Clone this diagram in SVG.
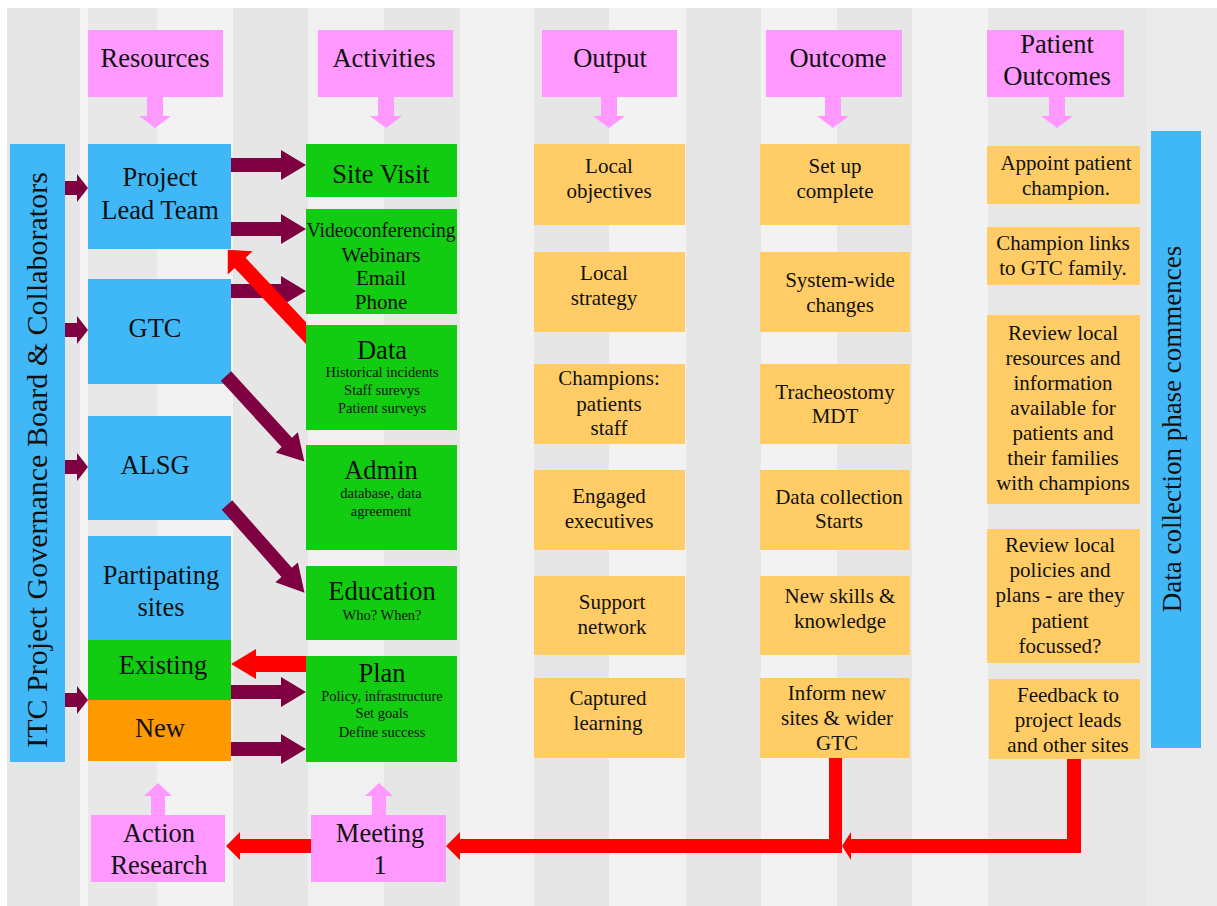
<svg xmlns="http://www.w3.org/2000/svg" width="1217" height="906" viewBox="0 0 1217 906">
  <style>
    text { font-family: "Liberation Serif", "Times New Roman", serif; fill: #111; text-anchor: middle; }
    .hdr { fill: #ff99ff; }
    .blue { fill: #40b8f8; }
    .green { fill: #11cc11; }
    .orange { fill: #ff9900; }
    .yellow { fill: #ffcc66; }
    .maroon { fill: #7f0040; }
    .red { fill: #ff0000; }
    .pink { fill: #ff99ff; }
    .big { font-size: 26.5px; }
    .mid { font-size: 21px; }
    .small { font-size: 14.5px; }
  </style>
  <defs>
    <!-- keeps the red feedback arrow from running over the Data box -->
    <clipPath id="left-of-activities"><rect x="0" y="0" width="306" height="906"/></clipPath>
  </defs>

  <!-- background: white frame with light grey vertical bands -->
  <g id="background">
    <rect x="0" y="0" width="1217" height="906" fill="#ffffff"/>
    <rect x="7" y="8" width="73" height="898" fill="#e6e6e6"/>
    <rect x="80" y="8" width="8" height="898" fill="#f4f4f4"/>
    <rect x="88" y="8" width="69" height="898" fill="#e8e8e8"/>
    <rect x="157" y="8" width="76" height="898" fill="#f2f2f2"/>
    <rect x="233" y="8" width="75" height="898" fill="#e6e6e6"/>
    <rect x="308" y="8" width="76" height="898" fill="#f0f0f0"/>
    <rect x="384" y="8" width="76" height="898" fill="#e6e6e6"/>
    <rect x="460" y="8" width="74" height="898" fill="#f2f2f2"/>
    <rect x="534" y="8" width="75" height="898" fill="#e6e6e6"/>
    <rect x="609" y="8" width="77" height="898" fill="#f2f2f2"/>
    <rect x="686" y="8" width="75" height="898" fill="#e6e6e6"/>
    <rect x="761" y="8" width="76" height="898" fill="#f2f2f2"/>
    <rect x="837" y="8" width="75" height="898" fill="#e6e6e6"/>
    <rect x="912" y="8" width="76" height="898" fill="#f2f2f2"/>
    <rect x="988" y="8" width="159" height="898" fill="#e7e7e7"/>
    <rect x="1147" y="8" width="70" height="898" fill="#ebebeb"/>
  </g>

  <!-- column headers -->
  <g id="hdr-resources"><rect class="hdr" x="88" y="30" width="135" height="67"/><text class="big" x="155" y="67">Resources</text></g>
  <g id="hdr-activities"><rect class="hdr" x="318" y="30" width="135" height="67"/><text class="big" x="384" y="67">Activities</text></g>
  <g id="hdr-output"><rect class="hdr" x="542" y="30" width="135" height="67"/><text class="big" x="610" y="67">Output</text></g>
  <g id="hdr-outcome"><rect class="hdr" x="766" y="30" width="136" height="67"/><text class="big" x="838" y="67">Outcome</text></g>
  <g id="hdr-patient"><rect class="hdr" x="987" y="30" width="137" height="67"/><text class="big" x="1057" y="53">Patient</text><text class="big" x="1057" y="85">Outcomes</text></g>

  <!-- side bars -->
  <g id="governance">
    <rect class="blue" x="10" y="144" width="55" height="618"/>
    <text transform="translate(47,460) rotate(-90)" font-size="30">ITC Project Governance Board &amp; Collaborators</text>
  </g>
  <g id="data-phase">
    <rect class="blue" x="1151" y="131" width="50" height="617"/>
    <text transform="translate(1181,429) rotate(-90)" font-size="27">Data collection phase commences</text>
  </g>

  <!-- resources -->
  <g id="project-lead"><rect class="blue" x="88" y="144" width="143" height="105"/><text class="big" x="160" y="186">Project</text><text class="big" x="160" y="219">Lead Team</text></g>
  <g id="gtc"><rect class="blue" x="88" y="279" width="143" height="105"/><text class="big" x="155" y="337">GTC</text></g>
  <g id="alsg"><rect class="blue" x="88" y="416" width="143" height="104"/><text class="big" x="155" y="474">ALSG</text></g>
  <g id="sites"><rect class="blue" x="88" y="536" width="143" height="104"/><text class="big" x="161" y="584">Partipating</text><text class="big" x="161" y="616">sites</text></g>
  <g id="existing"><rect class="green" x="88" y="640" width="143" height="60"/><text class="big" x="163" y="674">Existing</text></g>
  <g id="new"><rect class="orange" x="88" y="700" width="143" height="61"/><text class="big" x="160" y="737">New</text></g>

  <!-- activities -->
  <g id="site-visit"><rect class="green" x="306" y="144" width="151" height="53"/><text class="big" x="381" y="183">Site Visit</text></g>
  <g id="remote"><rect class="green" x="306" y="209" width="151" height="105"/>
    <text class="mid" x="381" y="237" textLength="149" lengthAdjust="spacingAndGlyphs">Videoconferencing</text><text class="mid" x="381" y="262">Webinars</text><text class="mid" x="381" y="285">Email</text><text class="mid" x="381" y="309">Phone</text></g>
  <g id="data"><rect class="green" x="306" y="325" width="151" height="105"/>
    <text class="big" x="382" y="359">Data</text><text class="small" x="382" y="377">Historical incidents</text><text class="small" x="382" y="395">Staff surevys</text><text class="small" x="382" y="413">Patient surveys</text></g>
  <g id="admin"><rect class="green" x="306" y="445" width="151" height="105"/>
    <text class="big" x="381" y="479">Admin</text><text class="small" x="381" y="498">database, data</text><text class="small" x="381" y="516">agreement</text></g>
  <g id="education"><rect class="green" x="306" y="566" width="151" height="74"/>
    <text class="big" x="382" y="600">Education</text><text class="small" x="382" y="620">Who? When?</text></g>
  <g id="plan"><rect class="green" x="306" y="656" width="151" height="106"/>
    <text class="big" x="382" y="682">Plan</text><text class="small" x="382" y="701">Policy, infrastructure</text><text class="small" x="382" y="718">Set goals</text><text class="small" x="382" y="737">Define success</text></g>

  <!-- outputs -->
  <g id="local-objectives"><rect class="yellow" x="534" y="144" width="151" height="81"/><text class="mid" x="609" y="173">Local</text><text class="mid" x="609" y="198">objectives</text></g>
  <g id="local-strategy"><rect class="yellow" x="534" y="252" width="151" height="80"/><text class="mid" x="604" y="280">Local</text><text class="mid" x="604" y="305">strategy</text></g>
  <g id="champions"><rect class="yellow" x="534" y="364" width="151" height="80"/><text class="mid" x="609" y="385">Champions:</text><text class="mid" x="609" y="411">patients</text><text class="mid" x="609" y="435">staff</text></g>
  <g id="engaged"><rect class="yellow" x="534" y="470" width="151" height="80"/><text class="mid" x="609" y="503">Engaged</text><text class="mid" x="609" y="528">executives</text></g>
  <g id="support"><rect class="yellow" x="534" y="576" width="151" height="79"/><text class="mid" x="612" y="609">Support</text><text class="mid" x="612" y="634">network</text></g>
  <g id="captured"><rect class="yellow" x="534" y="678" width="151" height="80"/><text class="mid" x="608" y="705">Captured</text><text class="mid" x="608" y="730">learning</text></g>

  <!-- outcomes -->
  <g id="setup"><rect class="yellow" x="760" y="144" width="150" height="81"/><text class="mid" x="835" y="173">Set up</text><text class="mid" x="835" y="198">complete</text></g>
  <g id="system-wide"><rect class="yellow" x="760" y="252" width="150" height="80"/><text class="mid" x="840" y="287">System-wide</text><text class="mid" x="840" y="312">changes</text></g>
  <g id="mdt"><rect class="yellow" x="760" y="364" width="150" height="80"/><text class="mid" x="835" y="399">Tracheostomy</text><text class="mid" x="835" y="423">MDT</text></g>
  <g id="collection-starts"><rect class="yellow" x="760" y="470" width="150" height="80"/><text class="mid" x="839" y="504">Data collection</text><text class="mid" x="839" y="528">Starts</text></g>
  <g id="skills"><rect class="yellow" x="760" y="576" width="150" height="79"/><text class="mid" x="840" y="603">New skills &amp;</text><text class="mid" x="840" y="628">knowledge</text></g>
  <g id="inform"><rect class="yellow" x="760" y="678" width="150" height="80"/><text class="mid" x="837" y="700">Inform new</text><text class="mid" x="837" y="725">sites &amp; wider</text><text class="mid" x="837" y="750">GTC</text></g>

  <!-- patient outcomes -->
  <g id="appoint"><rect class="yellow" x="987" y="146" width="153" height="58"/><text class="mid" x="1066" y="170">Appoint patient</text><text class="mid" x="1066" y="195">champion.</text></g>
  <g id="links"><rect class="yellow" x="987" y="227" width="153" height="58"/><text class="mid" x="1063" y="250">Champion links</text><text class="mid" x="1063" y="275">to GTC family.</text></g>
  <g id="review-resources"><rect class="yellow" x="987" y="315" width="153" height="189"/>
    <text class="mid" x="1063" y="340">Review local</text><text class="mid" x="1063" y="365">resources and</text><text class="mid" x="1063" y="390">information</text><text class="mid" x="1063" y="415">available for</text><text class="mid" x="1063" y="440">patients and</text><text class="mid" x="1063" y="465">their families</text><text class="mid" x="1063" y="490">with champions</text></g>
  <g id="review-policies"><rect class="yellow" x="987" y="529" width="153" height="134"/>
    <text class="mid" x="1060" y="552">Review local</text><text class="mid" x="1060" y="577">policies and</text><text class="mid" x="1060" y="602">plans - are they</text><text class="mid" x="1060" y="628">patient</text><text class="mid" x="1060" y="653">focussed?</text></g>
  <g id="feedback"><rect class="yellow" x="989" y="679" width="151" height="80"/>
    <text class="mid" x="1068" y="702">Feedback to</text><text class="mid" x="1068" y="727">project leads</text><text class="mid" x="1068" y="752">and other sites</text></g>

  <!-- bottom row -->
  <g id="action-research"><rect class="pink" x="91" y="815" width="134" height="67"/><text class="big" x="159" y="842">Action</text><text class="big" x="159" y="874">Research</text></g>
  <g id="meeting"><rect class="pink" x="311" y="815" width="135" height="67"/><text class="big" x="380" y="842">Meeting</text><text class="big" x="380" y="874">1</text></g>

  <!-- connectors -->
  <g id="connectors">
    <!-- header arrows pointing down into each column -->
    <polygon class="pink" points="147,96 163,96 163,116 171,116 155,128 139,116 147,116"/>
    <polygon class="pink" points="378,96 394,96 394,116 402,116 386,128 370,116 378,116"/>
    <polygon class="pink" points="601,96 617,96 617,116 625,116 609,128 593,116 601,116"/>
    <polygon class="pink" points="825,96 841,96 841,116 849,116 833,128 817,116 825,116"/>
    <polygon class="pink" points="1049,96 1065,96 1065,116 1073,116 1057,128 1041,116 1049,116"/>
    <!-- upward arrows from the bottom boxes -->
    <polygon class="pink" points="151,816 165,816 165,796 172,796 158,783 144,796 151,796"/>
    <polygon class="pink" points="372,816 386,816 386,796 393,796 379,783 365,796 372,796"/>

    <!-- governance board into resources -->
    <polygon class="maroon" points="65,181 77,181 77,174 88,188 77,202 77,195 65,195"/>
    <polygon class="maroon" points="65,323 77,323 77,316 88,330 77,344 77,337 65,337"/>
    <polygon class="maroon" points="65,460 77,460 77,453 88,467 77,481 77,474 65,474"/>
    <polygon class="maroon" points="65,693 77,693 77,686 88,700 77,714 77,707 65,707"/>

    <!-- resources into activities -->
    <polygon class="maroon" points="231,158 281,158 281,150 306,165 281,180 281,172 231,172"/>
    <polygon class="maroon" points="231,222 281,222 281,214 306,229 281,244 281,236 231,236"/>
    <polygon class="maroon" points="231,284 281,284 281,276 306,291 281,306 281,298 231,298"/>
    <polygon class="maroon" points="231,685 281,685 281,677 306,692 281,707 281,699 231,699"/>
    <polygon class="maroon" points="231,742 281,742 281,734 306,749 281,764 281,756 231,756"/>
    <polygon class="maroon" transform="translate(226,376) rotate(47.5)" points="0,-7 90,-7 90,-15 116,0 90,15 90,7 0,7"/>
    <polygon class="maroon" transform="translate(227,505) rotate(48.5)" points="0,-7 90,-7 90,-15 117,0 90,15 90,7 0,7"/>

    <!-- feedback from activities back to resources -->
    <g clip-path="url(#left-of-activities)">
      <polygon class="red" transform="translate(312,339.5) rotate(-133.2)" points="0,-7.5 105,-7.5 105,-17 123,0 105,17 105,7.5 0,7.5"/>
    </g>
    <polygon class="red" points="306,656 256,656 256,649 231,664 256,679 256,672 306,672"/>
    <polygon class="red" points="311,839 240,839 240,832 226,846 240,860 240,853 311,853"/>

    <!-- return loop from outcomes to meeting -->
    <polygon class="red" points="829,758 842,758 842,853 460,853 460,860 446,846 460,832 460,839 829,839"/>
    <polygon class="red" points="1067,759 1081,759 1081,853 851,853 851,860 842,846 851,832 851,839 1067,839"/>
  </g>
</svg>
